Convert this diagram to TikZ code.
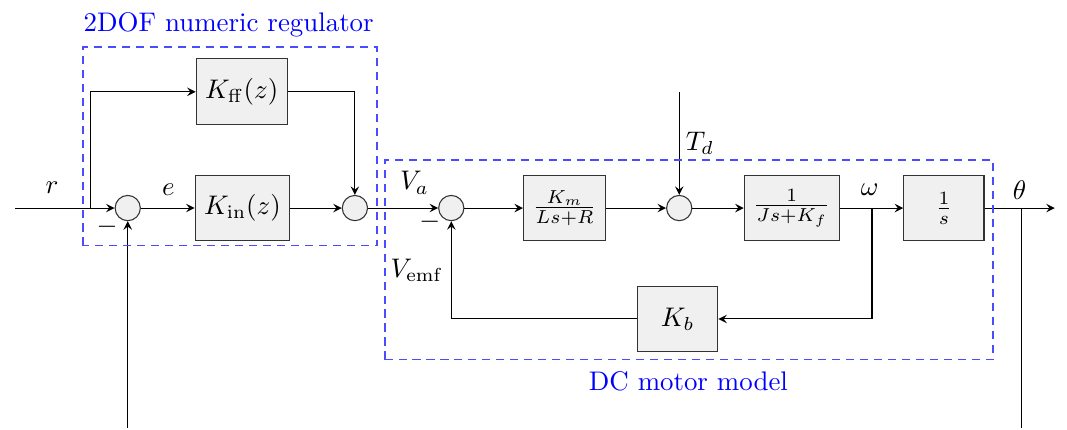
\documentclass[tikz,border=0pt]{standalone}
\usetikzlibrary{arrows}
\begin{document}
\begin{tikzpicture}[>=stealth,
    block/.style={draw=black!80, fill=black!6, minimum width=1.05cm, minimum height=0.86cm},
    sumnode/.style={circle, draw=black!80, fill=black!6, minimum size=0.33cm, inner sep=0pt},
    group/.style={draw=blue!70, dash pattern=on 3pt off 2.2pt, line width=0.7pt},
    grouplabel/.style={text=blue}]
    \useasboundingbox (0,0) rectangle (13.95,5.62);
    \coordinate (in) at (0.2,2.9);
    \coordinate (split) at (1.18,2.9);
    \node[sumnode] (s1) at (1.67,2.9) {};
    \node[block] (kin) at (3.17,2.9) {$K_{\mathrm{in}}(z)$};
    \node[block] (kff) at (3.16,4.42) {$K_{\mathrm{ff}}(z)$};
    \node[sumnode] (s2) at (4.64,2.9) {};
    \node[sumnode] (s3) at (5.90,2.9) {};
    \node[block] (km) at (7.38,2.9) {$\frac{K_m}{Ls+R}$};
    \node[sumnode] (s4) at (8.88,2.9) {};
    \node[block] (kj) at (10.35,2.9) {$\frac{1}{Js+K_f}$};
    \coordinate (w) at (11.40,2.9);
    \node[block] (int) at (12.34,2.9) {$\frac{1}{s}$};
    \coordinate (th) at (13.35,2.9);
    \coordinate (out) at (13.79,2.9);
    \node[block] (kb) at (8.86,1.45) {$K_b$};
    \coordinate (tdin) at (8.88,4.42);
    \coordinate (fbin) at (1.67,0.03);
    \coordinate (thout) at (13.35,0.03);
    \draw[->] (in) -- (s1);
    \draw[->] (split) |- (kff);
    \draw[->] (s1) -- (kin);
    \draw[->] (kin) -- (s2);
    \draw[->] (kff) -| (s2);
    \draw[->] (s2) -- (s3);
    \draw[->] (s3) -- (km);
    \draw[->] (km) -- (s4);
    \draw[->] (tdin) -- (s4);
    \draw[->] (s4) -- (kj);
    \draw[->] (kj) -- (int);
    \draw[->] (w) |- (kb);
    \draw[->] (kb) -| (s3);
    \draw[->] (int) -- (out);
    \draw (th) -- (thout);
    \draw[->] (fbin) -- (s1);
    \node (lr) at (0.68,3.16) {$r$};
    \node (lm1) at (1.40,2.65) {$-$};
    \node (le) at (2.20,3.14) {$e$};
    \node (lva) at (5.42,3.23) {$V_a$};
    \node (lm3) at (5.62,2.72) {$-$};
    \node (lvemf) at (5.45,2.09) {$V_{\mathrm{emf}}$};
    \node (ltd) at (9.15,3.75) {$T_d$};
    \node (lw) at (11.37,3.14) {$\omega$};
    \node (lth) at (13.33,3.14) {$\theta$};
    \draw[group] (1.08,2.41) rectangle (4.93,5.0);
    \draw[group] (5.03,0.92) rectangle (12.98,3.53);
    \node[grouplabel] (reglabel) at (2.99,5.29) {2DOF numeric regulator};
    \node[grouplabel] (motorlabel) at (9.0,0.63) {DC motor model};
\end{tikzpicture}
\end{document}
